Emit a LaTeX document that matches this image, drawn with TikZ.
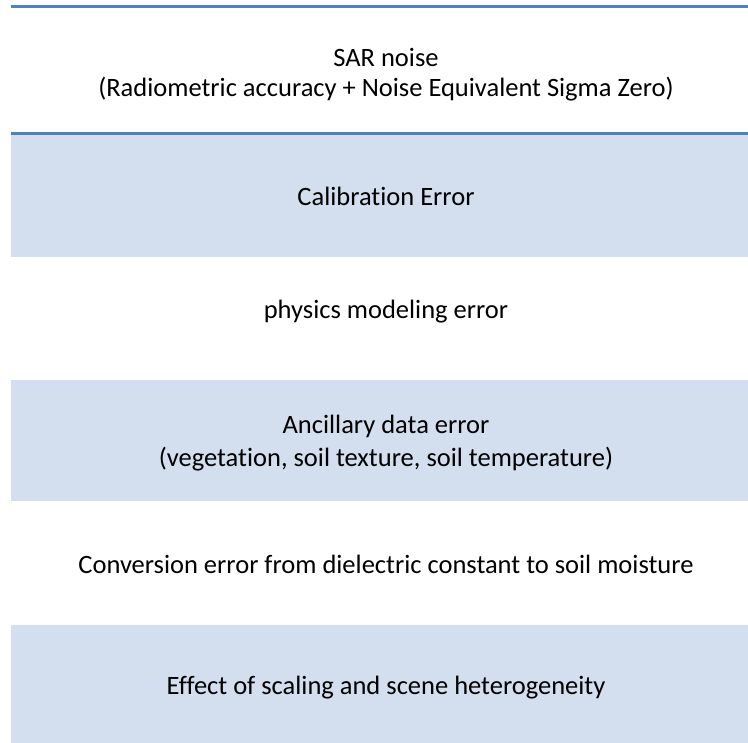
\documentclass[tikz,border=0pt]{standalone}
\usepackage{fontspec}
\setmainfont{Carlito}[Ligatures=NoCommon]
\definecolor{rulerblue}{HTML}{4F81BD}
\definecolor{bandfill}{HTML}{D3DFEE}
\tikzset{
  x=1pt, y=-1pt,
  rowtext/.style={anchor=base, font=\fontsize{26.5}{31}\selectfont, text=black, inner sep=0pt},
  band/.style={fill=bandfill, draw=none},
  rulerline/.style={draw=rulerblue, line width=3pt}
}
\begin{document}
\begin{tikzpicture}
\useasboundingbox (0,0) rectangle (748,743);
% shaded rows
\fill[band] (11,135) rectangle (748,257);
\fill[band] (11,380) rectangle (748,501);
\fill[band] (11,625) rectangle (748,743);
% header rules
\draw[rulerline] (11,6.5) -- (748,6.5);
\draw[rulerline] (11,133.5) -- (748,133.5);
% row texts, one node per printed line, placed on their baselines
\node[rowtext] (r1a) at (386,67) {SAR noise};
\node[rowtext] (r1b) at (386,97) {(Radiometric accuracy + Noise Equivalent Sigma Zero)};
\node[rowtext] (r2) at (386,205.5) {Calibration Error};
\node[rowtext] (r3) at (386,319) {physics modeling error};
\node[rowtext] (r4a) at (386,434) {Ancillary data error};
\node[rowtext] (r4b) at (386,467) {(vegetation, soil texture, soil temperature)};
\node[rowtext] (r5) at (386,573) {Conversion error from dielectric constant to soil moisture};
\node[rowtext] (r6) at (386,694) {Effect of scaling and scene heterogeneity};
\end{tikzpicture}
\end{document}
